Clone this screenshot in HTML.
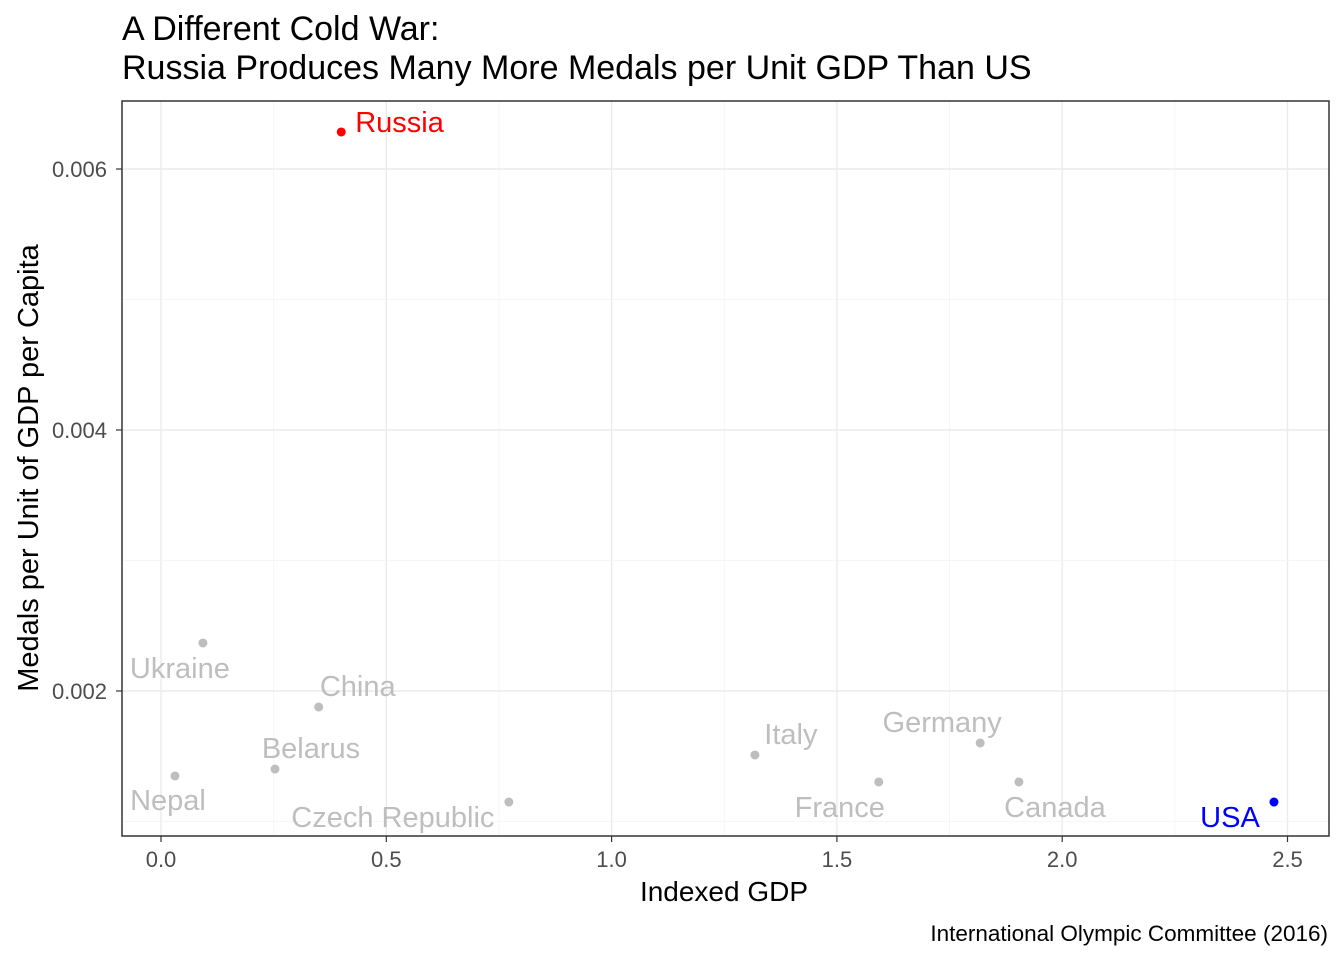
<!DOCTYPE html>
<html><head><meta charset="utf-8"><style>
body{margin:0;background:#fff;font-family:"Liberation Sans",Arial,sans-serif}
svg text{font-family:"Liberation Sans",Arial,sans-serif}
</style></head><body>
<svg id="chart" width="1344" height="960" xmlns="http://www.w3.org/2000/svg">
<text x="122" y="40" font-size="34" fill="#000">A Different Cold War:</text>
<text x="122" y="79" font-size="34" fill="#000">Russia Produces Many More Medals per Unit GDP Than US</text>
<g id="grid"></g>
<g id="marks"></g>
<rect x="122" y="101" width="1207" height="735" fill="none" stroke="#333" stroke-width="1.5"/>
<g id="axes"></g>
<text x="724" y="901" font-size="28" text-anchor="middle">Indexed GDP</text>
<text transform="translate(38,468) rotate(-90)" font-size="29" text-anchor="middle">Medals per Unit of GDP per Capita</text>
<text x="1328" y="941" font-size="22.5" text-anchor="end">International Olympic Committee (2016)</text>
</svg>
<script>
const countries=["Russia","Ukraine","China","Belarus","Nepal","Czech Republic","Italy","France","Germany","Canada","USA"];
const gdp=[0.40,0.093,0.35,0.253,0.031,0.772,1.318,1.593,1.818,1.904,2.47];
const medals=[0.006284,0.002368,0.001877,0.001402,0.001349,0.001149,0.00151,0.001303,0.001602,0.001303,0.001149];
const xTicks=[0,0.5,1.0,1.5,2.0,2.5];
const xTickLabels=["0.0","0.5","1.0","1.5","2.0","2.5"];
const yTicks=[0.002,0.004,0.006];
const yTickLabels=["0.002","0.004","0.006"];
const colors={"Russia":"#ff0000","USA":"#0000ff"};
// label offsets (px): [dx, dy, anchor]
const lo={"Russia":[14,0,"start"],"Ukraine":[-23,35,"middle"],"China":[39,-11,"middle"],"Belarus":[36,-11,"middle"],"Nepal":[-7,34,"middle"],"Czech Republic":[-116,25,"middle"],"Italy":[36,-11,"middle"],"France":[-39,35,"middle"],"Germany":[-38,-11,"middle"],"Canada":[36,35,"middle"],"USA":[-44,25,"middle"]};
const X=v=>161+v*450.6, Y=v=>169-(v-0.006)*130500;
const ns="http://www.w3.org/2000/svg";
function mk(t,a,p){const e=document.createElementNS(ns,t);for(const k in a)e.setAttribute(k,a[k]);p.appendChild(e);return e;}
const g=document.getElementById('grid'),ax=document.getElementById('axes'),m=document.getElementById('marks');
mk('rect',{x:122,y:101,width:1207,height:735,fill:'#fff'},g);
for(let i=0;i<xTicks.length;i++){
 const x=X(xTicks[i]);
 const l=mk('line',{x1:x,x2:x,y1:101,y2:836,stroke:'#ebebeb','stroke-width':1.4},g);
 
 if(i<xTicks.length-1){const xm=X((xTicks[i]+xTicks[i+1])/2);const l2=mk('line',{x1:xm,x2:xm,y1:101,y2:836,stroke:'#f3f3f3','stroke-width':0.8},g);
 }
 const t=mk('line',{x1:x,x2:x,y1:836,y2:842,stroke:'#333','stroke-width':1.2},ax);
 
 const tx=mk('text',{x:x,y:867,'font-size':22,fill:'#4d4d4d','text-anchor':'middle'},ax);tx.textContent=xTickLabels[i];
 
}
for(const v of [0.001,0.003,0.005]){const y=Y(v);const l=mk('line',{x1:122,x2:1329,y1:y,y2:y,stroke:'#f3f3f3','stroke-width':0.8},g);
 }
for(let i=0;i<yTicks.length;i++){
 const y=Y(yTicks[i]);
 const l=mk('line',{x1:122,x2:1329,y1:y,y2:y,stroke:'#ebebeb','stroke-width':1.4},g);
 
 const t=mk('line',{x1:116,x2:122,y1:y,y2:y,stroke:'#333','stroke-width':1.2},ax);
 
 const tx=mk('text',{x:107,y:y+8,'font-size':22,fill:'#4d4d4d','text-anchor':'end'},ax);tx.textContent=yTickLabels[i];
 
}
for(let i=0;i<countries.length;i++){
 const c=countries[i],col=colors[c]||'#bebebe',x=X(gdp[i]),y=Y(medals[i]);
 const p=mk('circle',{cx:x,cy:y,r:4.5,fill:col},m);
 
 const o=lo[c];
 const t=mk('text',{x:x+o[0],y:y+o[1],'font-size':29,fill:col,'text-anchor':o[2]},m);t.textContent=c;
 
}
</script>
</body></html>
